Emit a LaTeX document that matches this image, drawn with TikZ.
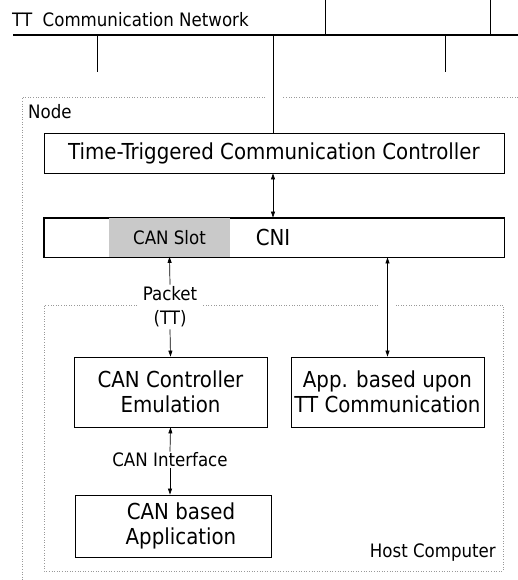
\documentclass[tikz,border=0pt]{standalone}
\usepackage{fontspec}
\setmainfont{DejaVu Sans Condensed}
\usetikzlibrary{arrows.meta}
\begin{document}
\begin{tikzpicture}[x=1pt,y=-1pt,
  box/.style={draw,line width=0.8pt,inner sep=0pt,align=center,font=\fontsize{22}{25}\selectfont},
  small/.style={inner sep=1pt,align=center,font=\fontsize{18.5}{24}\selectfont},
  conn/.style={line width=0.7pt,{Triangle[length=6pt,width=4pt]}-{Triangle[length=6pt,width=4pt]}},
  conn1/.style={line width=0.7pt,-{Triangle[length=6pt,width=4pt]}},
  dots/.style={dotted,draw=gray!80,line width=0.6pt},
  net/.style={line width=1.4pt},
  tap/.style={line width=0.7pt}]
\useasboundingbox (0,0) rectangle (518,580);
% network
\coordinate (netL) at (13,35);
\coordinate (netR) at (518,35);
\draw[net] (netL) -- (netR);
\node[small,anchor=base west,inner sep=0pt] (netlab) at (12,27) {TT\ \ Communication Network};
\coordinate (u1) at (325,0); \coordinate (u1b) at (325,35);
\coordinate (u2) at (490,0); \coordinate (u2b) at (490,35);
\coordinate (d1) at (97,35); \coordinate (d1b) at (97,72);
\coordinate (d2) at (445,35); \coordinate (d2b) at (445,72);
\draw[tap] (u1) -- (u1b);
\draw[tap] (u2) -- (u2b);
\draw[tap] (d1) -- (d1b);
\draw[tap] (d2) -- (d2b);
% node box
\draw[dots] (518,97) -- (282,97);
\draw[dots] (265,97) -- (22,97) -- (22,580);
\node[small,anchor=base west,inner sep=0pt] (nodelab) at (28,119) {Node};
% TTCC
\node[box,minimum width=460,minimum height=40] (ttcc) at (274,153) {Time-Triggered Communication Controller};
\coordinate (ttctop) at (273,35);
\draw[tap] (ttctop) -- (ttcc.north -| ttctop);
% CNI
\node[box,minimum width=460,minimum height=39] (cni) at (274,237.5) {};
\node[draw=none,fill=black!21,minimum width=121,minimum height=38.2,inner sep=0pt] (slot) at (169.5,237.5) {};
\node[small] (slotlab) at (169.5,237.5) {CAN Slot};
\node[inner sep=0pt,font=\fontsize{22}{25}\selectfont] (cnilab) at (273,237) {CNI};
\draw[box,fill=none] (cni.north west) rectangle (cni.south east);
\draw[conn] (ttcc.south -| ttctop) -- (cni.north -| ttctop);
% host computer
\draw[dots] (137,305) -- (44,305) -- (44,571) -- (503,571) -- (503,305) -- (395,305);
\draw[dots] (378,305) -- (203,305);
\node[small,anchor=base east,inner sep=0pt] (hostlab) at (496,557) {Host Computer};
% packet
\node[small,fill=white,inner sep=2pt] (pkt) at (170,307) {Packet\\(TT)};
\node[box,minimum width=193,minimum height=70] (cce) at (170.5,392) {CAN Controller\\Emulation};
\node[box,minimum width=193,minimum height=70] (app) at (387.5,392) {App. based upon\\TT Communication};
\draw[conn1] (pkt.north) -- (slot.south);
\draw[conn1] (pkt.south) -- (cce.north);
\draw[conn] (app.north |- cni.south) -- (app.north);
% CAN interface
\node[small] (cif) at (170,460) {CAN Interface};
\node[box,minimum width=196,minimum height=62] (cba) at (173,526) {\hspace*{16pt}CAN based\\\hspace*{16pt}Application};
\draw[conn1] (cif.north) -- (cce.south);
\draw[conn1] (cif.south) -- (cif.south |- cba.north);
\end{tikzpicture}
\end{document}
